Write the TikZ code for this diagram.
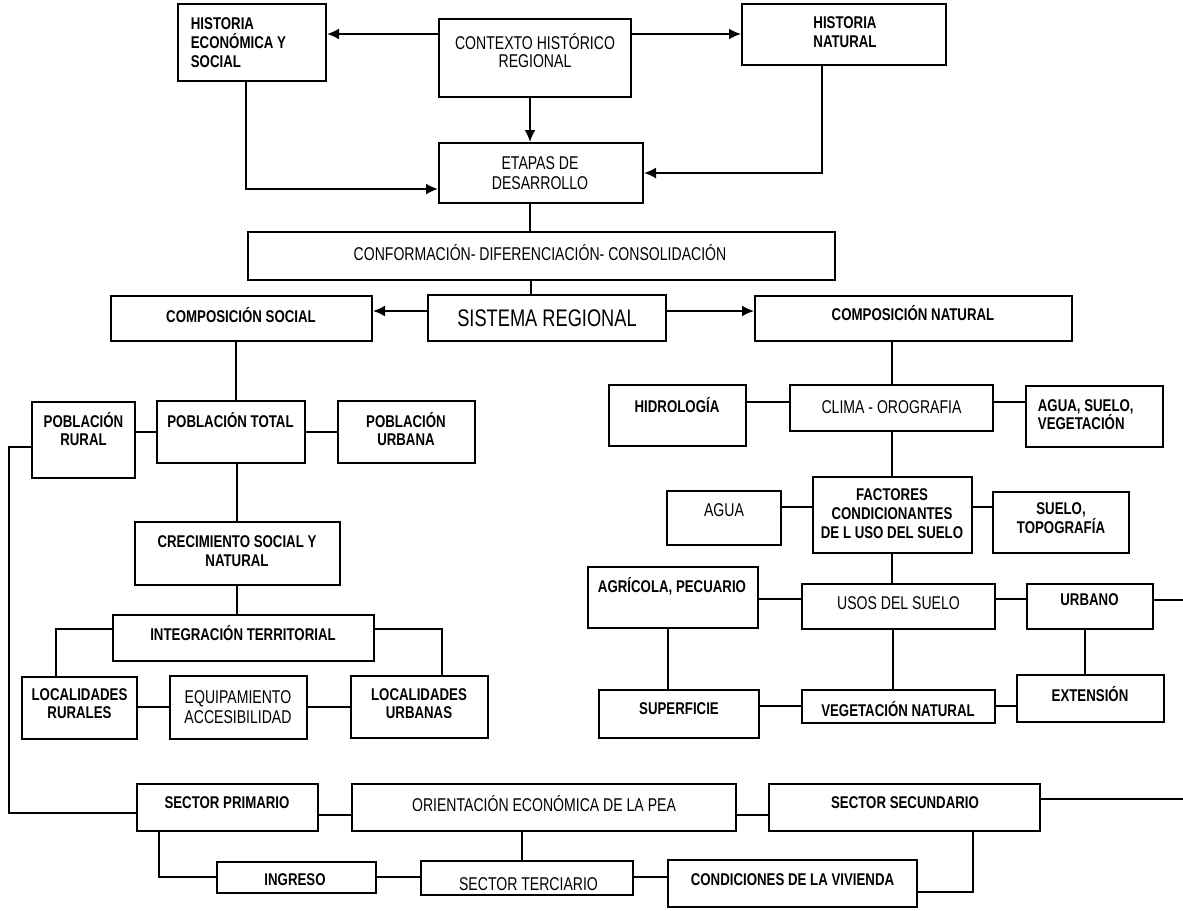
\documentclass[tikz,border=0pt]{standalone}
\usepackage{fontspec}
\setmainfont{Liberation Sans}
\newfontfamily\narrowfont[FakeStretch=0.78]{Liberation Sans}
\newfontfamily\condfont[FakeStretch=0.76]{Liberation Sans}
\usetikzlibrary{arrows.meta}
\tikzset{>={Latex[length=12pt,width=11pt]}}
\tikzset{
  box/.style={draw, line width=2pt, inner sep=0pt},
  lbl/.style={font=\narrowfont\bfseries\fontsize{17}{19}\selectfont, align=center, inner sep=0pt},
  lblm/.style={font=\condfont\fontsize{18.5}{20}\selectfont, align=center, inner sep=0pt},
  lblb/.style={font=\condfont\fontsize{24}{26}\selectfont, inner sep=0pt}
}

\begin{document}
\begin{tikzpicture}[x=1pt,y=-1pt,line width=1.8pt]
  \useasboundingbox (0,0) rectangle (1183,910);
  % historical context
  \node[box, minimum width=148pt, minimum height=77pt] (hecon) at (252,42.5) {};
  \node[lbl, align=left, anchor=west] (hecon-t) at (190,42.5) {HISTORIA\\ECONÓMICA Y\\SOCIAL};
  \node[box, minimum width=192pt, minimum height=78pt] (contexto) at (535,58) {};
  \node[lblm, font=\condfont\fontsize{18.5}{18}\selectfont] (contexto-t) at (535,51) {CONTEXTO HISTÓRICO\\REGIONAL};
  \node[box, minimum width=204pt, minimum height=61pt] (hnat) at (844,34.5) {};
  \node[lbl, align=left] (hnat-t) at (845,32.5) {HISTORIA\\NATURAL};
  \node[box, minimum width=204pt, minimum height=60pt] (etapas) at (541,173) {};
  \node[lblm] (etapas-t) at (540,173) {ETAPAS DE\\DESARROLLO};
  \node[box, minimum width=587pt, minimum height=48pt] (conform) at (541.5,256) {};
  \node[lblm] (conform-t) at (540,253) {CONFORMACIÓN- DIFERENCIACIÓN- CONSOLIDACIÓN};
  \node[box, minimum width=238pt, minimum height=46pt] (sistema) at (547,318) {};
  \node[lblb] (sistema-t) at (547,318) {SISTEMA REGIONAL};
  %
  \draw[->] (contexto.west |- 0,34) -- (hecon.east |- 0,34);
  \draw[->] (contexto.east |- 0,34) -- (hnat.west |- 0,34);
  \draw[->] (contexto.south -| 530,0) -- (etapas.north -| 530,0);
  \draw[->] (hecon.south -| 246,0) |- (etapas.west |- 0,189);
  \draw[->] (hnat.south -| 822,0) |- (etapas.east);
  \draw (etapas.south -| 530,0) -- (conform.north -| 530,0);
  \draw (conform.south -| 531,0) -- (sistema.north -| 531,0);
  % social side
  \node[box, minimum width=261pt, minimum height=45pt] (csocial) at (241.5,318.5) {};
  \node[lbl] (csocial-t) at (241,315) {COMPOSICIÓN SOCIAL};
  \node[box, minimum width=103pt, minimum height=76pt] (prural) at (83.5,440) {};
  \node[lbl, font=\narrowfont\bfseries\fontsize{17}{18}\selectfont] (prural-t) at (83.5,429) {POBLACIÓN\\RURAL};
  \node[box, minimum width=148pt, minimum height=62pt] (ptotal) at (231,432) {};
  \node[lbl] (ptotal-t) at (230.5,420) {POBLACIÓN TOTAL};
  \node[box, minimum width=137pt, minimum height=62pt] (purbana) at (406.5,432) {};
  \node[lbl, font=\narrowfont\bfseries\fontsize{17}{18}\selectfont] (purbana-t) at (406,429) {POBLACIÓN\\URBANA};
  \node[box, minimum width=205pt, minimum height=63pt] (crec) at (237.5,553.5) {};
  \node[lbl] (crec-t) at (237,551.5) {CRECIMIENTO SOCIAL Y\\NATURAL};
  \node[box, minimum width=261pt, minimum height=46pt] (integ) at (243.5,638) {};
  \node[lbl] (integ-t) at (243,633) {INTEGRACIÓN TERRITORIAL};
  \node[box, minimum width=115pt, minimum height=62pt] (lrur) at (79.5,708) {};
  \node[lbl, font=\narrowfont\bfseries\fontsize{17}{18}\selectfont] (lrur-t) at (79.5,704) {LOCALIDADES\\RURALES};
  \node[box, minimum width=137pt, minimum height=63pt] (equip) at (238.5,707.5) {};
  \node[lblm] (equip-t) at (238,707) {EQUIPAMIENTO\\ACCESIBILIDAD};
  \node[box, minimum width=137pt, minimum height=62pt] (lurb) at (419.5,707) {};
  \node[lbl, font=\narrowfont\bfseries\fontsize{17}{18}\selectfont] (lurb-t) at (419,703.5) {LOCALIDADES\\URBANAS};
  %
  \draw[->] (sistema.west |- 0,311) -- (csocial.east |- 0,311);
  \draw (csocial.south -| 236,0) -- (ptotal.north -| 236,0);
  \draw (prural.east |- ptotal.west) -- (ptotal.west);
  \draw (ptotal.east) -- (purbana.west |- ptotal.east);
  \draw (ptotal.south -| 237,0) -- (crec.north -| 237,0);
  \draw (crec.south -| 237,0) -- (integ.north -| 237,0);
  \draw (integ.west |- 0,629) -| (lrur.north -| 56,0);
  \draw (integ.east |- 0,629) -| (lurb.north -| 442,0);
  \draw (lrur.east |- 0,707) -- (equip.west |- 0,707);
  \draw (equip.east |- 0,707) -- (lurb.west |- 0,707);
  % economic orientation
  \node[box, minimum width=181pt, minimum height=47pt] (sprim) at (227.5,807.5) {};
  \node[lbl] (sprim-t) at (227,803) {SECTOR PRIMARIO};
  \node[box, minimum width=384pt, minimum height=47pt] (orient) at (544,807.5) {};
  \node[lblm] (orient-t) at (544,804) {ORIENTACIÓN ECONÓMICA DE LA PEA};
  \node[box, minimum width=271pt, minimum height=47pt] (ssec) at (904.5,807.5) {};
  \node[lbl] (ssec-t) at (905,803) {SECTOR SECUNDARIO};
  \node[box, minimum width=159pt, minimum height=31pt] (ingreso) at (296.5,877.5) {};
  \node[lbl] (ingreso-t) at (295,880) {INGRESO};
  \node[box, minimum width=212pt, minimum height=34pt] (sterc) at (527,878) {};
  \node[lblm] (sterc-t) at (528.5,884) {SECTOR TERCIARIO};
  \node[box, minimum width=249pt, minimum height=47pt] (condic) at (792.5,883.5) {};
  \node[lbl] (condic-t) at (792.5,880) {CONDICIONES DE LA VIVIENDA};
  \coordinate (edgeS) at (1183,799);
  %
  \draw (prural.west |- 0,447) -- ++(-22,0) |- (sprim.west |- 0,813);
  \draw (sprim.east |- 0,815) -- (orient.west |- 0,815);
  \draw (orient.east |- 0,815) -- (ssec.west |- 0,815);
  \draw (ssec.east |- edgeS) -- (edgeS);
  \draw (sprim.south -| 159,0) |- (ingreso.west |- 0,877);
  \draw (ingreso.east |- 0,877) -- (sterc.west |- 0,877);
  \draw (sterc.east |- 0,877) -- (condic.west |- 0,877);
  \draw (orient.south -| 522,0) -- (sterc.north -| 522,0);
  \draw (ssec.south -| 973,0) |- (condic.east |- 0,892);
  % natural side
  \node[box, minimum width=317pt, minimum height=45pt] (cnatural) at (913.5,318.5) {};
  \node[lbl] (cnatural-t) at (913,313) {COMPOSICIÓN NATURAL};
  \node[box, minimum width=137pt, minimum height=61pt] (hidro) at (677.5,415.5) {};
  \node[lbl] (hidro-t) at (677,405) {HIDROLOGÍA};
  \node[box, minimum width=203pt, minimum height=46pt] (clima) at (891.5,408) {};
  \node[lblm] (clima-t) at (891.5,407) {CLIMA - OROGRAFIA};
  \node[box, minimum width=137pt, minimum height=61pt] (asv) at (1094.5,416.5) {};
  \node[lbl, align=left, anchor=west, font=\narrowfont\bfseries\fontsize{17}{17}\selectfont] (asv-t) at (1037,414.5) {AGUA, SUELO,\\VEGETACIÓN};
  \node[box, minimum width=159pt, minimum height=76pt] (factores) at (892.5,515) {};
  \node[lbl] (factores-t) at (892,513.5) {FACTORES\\CONDICIONANTES\\DE L USO DEL SUELO};
  \node[box, minimum width=114pt, minimum height=54pt] (agua) at (724,518) {};
  \node[lblm] (agua-t) at (724,510) {AGUA};
  \node[box, minimum width=136pt, minimum height=61pt] (stopo) at (1061,522.5) {};
  \node[lbl] (stopo-t) at (1061,518.5) {SUELO,\\TOPOGRAFÍA};
  \node[box, minimum width=170pt, minimum height=61pt] (agric) at (673,597.5) {};
  \node[lbl] (agric-t) at (672,586) {AGRÍCOLA, PECUARIO};
  \node[box, minimum width=193pt, minimum height=45pt] (usos) at (898.5,606.5) {};
  \node[lblm] (usos-t) at (898.5,603) {USOS DEL SUELO};
  \node[box, minimum width=126pt, minimum height=45pt] (urbano) at (1090,606.5) {};
  \node[lbl] (urbano-t) at (1089.5,600) {URBANO};
  \node[box, minimum width=160pt, minimum height=48pt] (superf) at (679,714) {};
  \node[lbl] (superf-t) at (679,709) {SUPERFICIE};
  \node[box, minimum width=193pt, minimum height=33pt] (veg) at (898.5,706.5) {};
  \node[lbl] (veg-t) at (898,709) {VEGETACIÓN NATURAL};
  \node[box, minimum width=147pt, minimum height=47pt] (ext) at (1090.5,698.5) {};
  \node[lbl] (ext-t) at (1090,694) {EXTENSIÓN};
  \coordinate (edgeU) at (1183,600);
  %
  \draw[->] (sistema.east |- 0,311) -- (cnatural.west |- 0,311);
  \draw (cnatural.south -| 892,0) -- (clima.north -| 892,0);
  \draw (hidro.east |- 0,402) -- (clima.west |- 0,402);
  \draw (clima.east |- 0,402) -- (asv.west |- 0,402);
  \draw (clima.south -| 892,0) -- (factores.north -| 892,0);
  \draw (agua.east |- 0,507) -- (factores.west |- 0,507);
  \draw (factores.east |- 0,507) -- (stopo.west |- 0,507);
  \draw (factores.south -| 892,0) -- (usos.north -| 892,0);
  \draw (agric.east |- 0,599) -- (usos.west |- 0,599);
  \draw (usos.east |- 0,599) -- (urbano.west |- 0,599);
  \draw (urbano.east |- edgeU) -- (edgeU);
  \draw (agric.south -| 668,0) -- (superf.north -| 668,0);
  \draw (usos.south -| 893,0) -- (veg.north -| 893,0);
  \draw (urbano.south -| 1085,0) -- (ext.north -| 1085,0);
  \draw (superf.east |- 0,706) -- (veg.west |- 0,706);
  \draw (veg.east |- 0,706) -- (ext.west |- 0,706);
\end{tikzpicture}
\end{document}
